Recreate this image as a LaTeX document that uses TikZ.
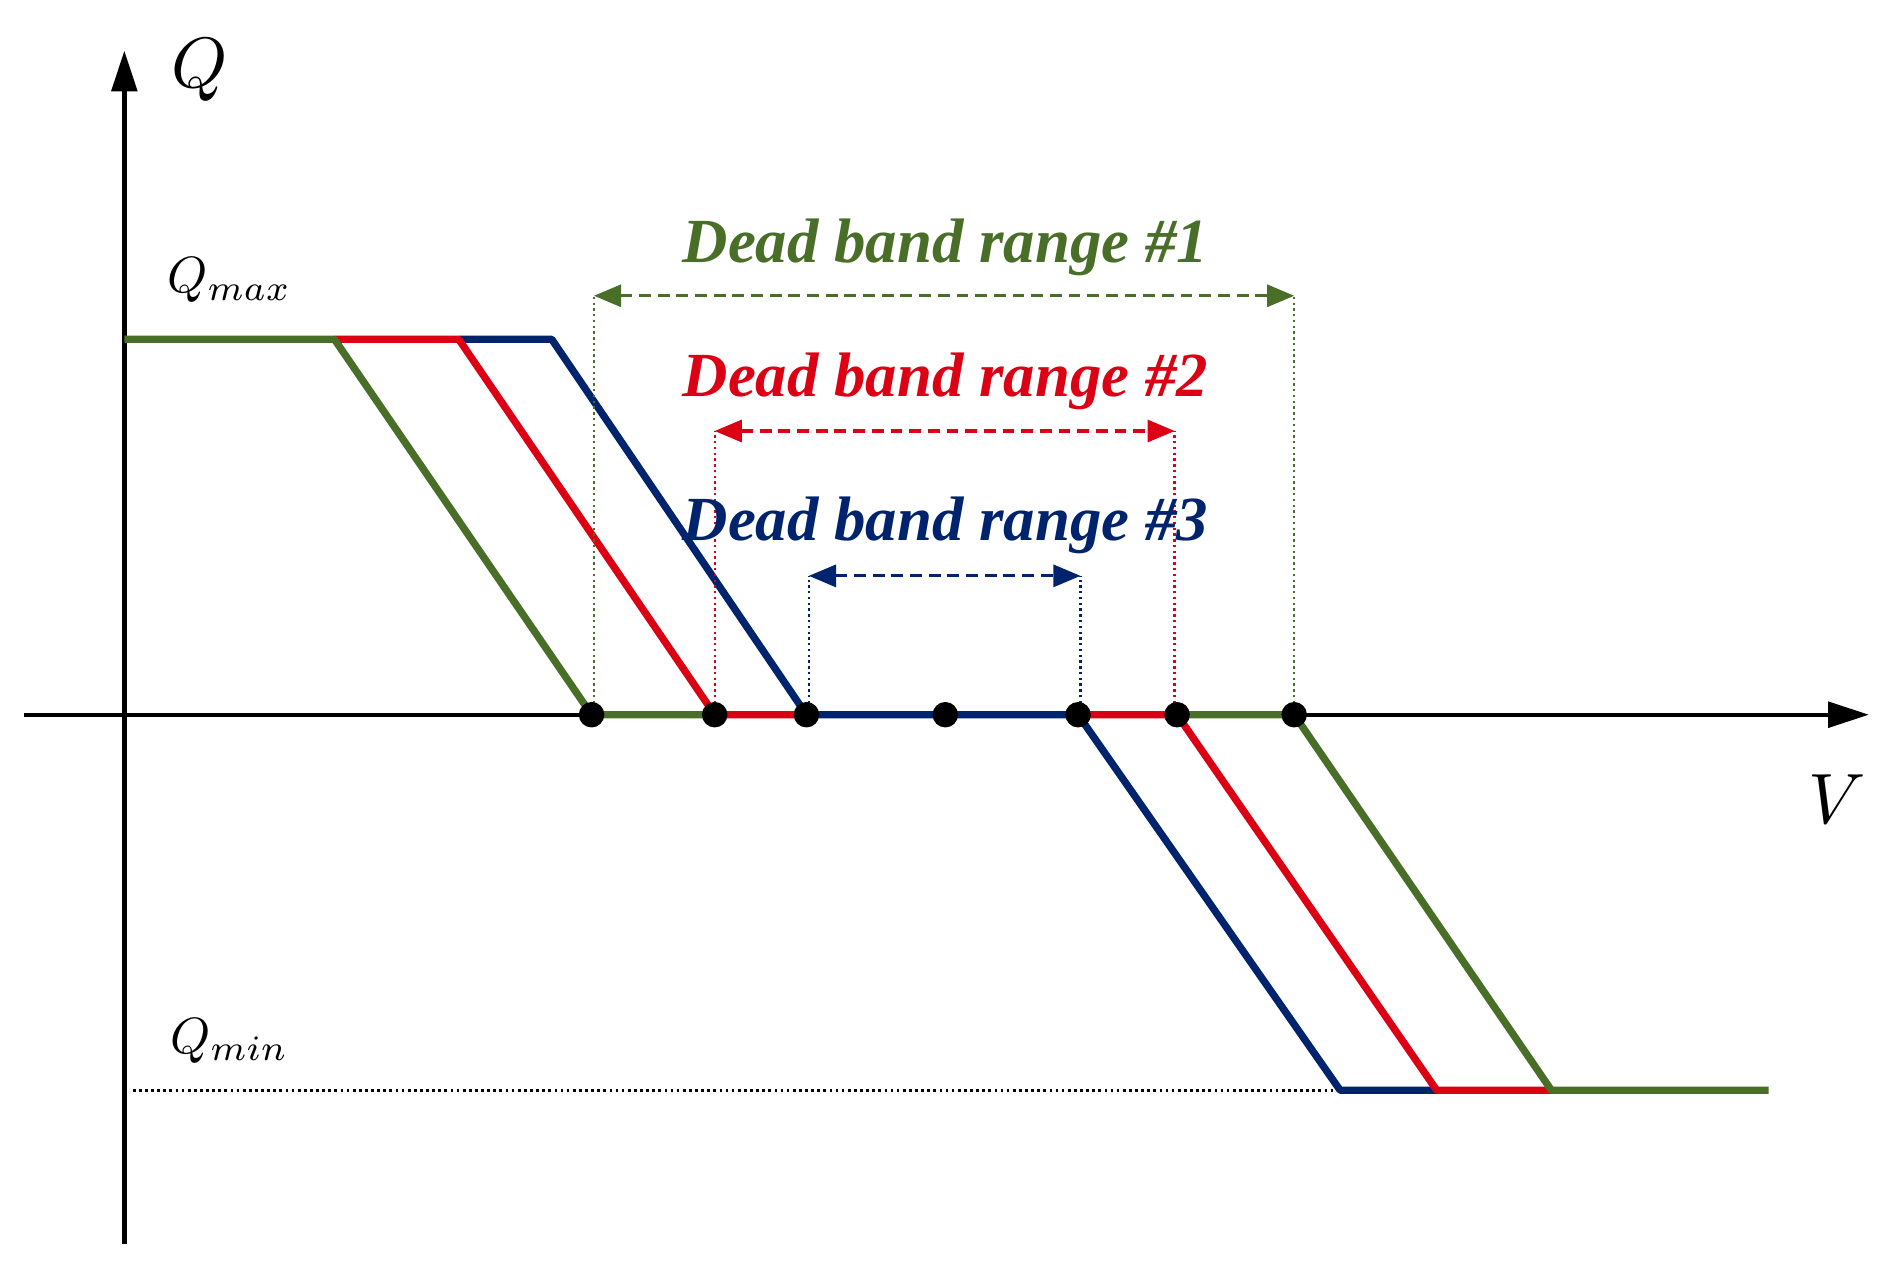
\documentclass[tikz,border=0pt]{standalone}
\usepackage{fontspec}
\setmainfont{Liberation Serif}
\usepackage{graphicx}
\usetikzlibrary{arrows.meta}
\definecolor{cg}{RGB}{72,110,40}
\definecolor{cr}{RGB}{220,0,20}
\definecolor{cb}{RGB}{0,35,110}
\begin{document}
\begin{tikzpicture}[x=0.025cm,y=-0.025cm,
 curve/.style={line width=4.3pt,line join=round},
 dot/.style={circle,fill=black,inner sep=0pt,minimum size=15pt},
 vdot/.style={dotted,line width=1.4pt},
 dbarrow/.style={dash pattern=on 7pt off 4pt,line width=1.8pt,{Triangle[length=16pt,width=13pt]}-{Triangle[length=16pt,width=13pt]}},
 dblabel/.style={font=\fontsize{37}{40}\selectfont\bfseries\itshape},
 ax/.style={line width=2.6pt,-{Triangle[length=24pt,width=15pt]}}]
\useasboundingbox (0,0) rectangle (1568,1059);
\coordinate (yb) at (103,1030); \coordinate (yt) at (103,42);
\coordinate (xl) at (20,592); \coordinate (xr) at (1548,592);
\draw[ax] (yb) -- (yt);
\draw[ax] (xl) -- (xr);
\node (Q) at (165,58) {\scalebox{4.2}{$Q$}};
\node (V) at (1522,662) {\scalebox{4.2}{$V$}};
\node (Qmax) at (190,232) {\scalebox{3}{$Q_{max}$}};
\node (Qmin) at (190,862) {\scalebox{3}{$Q_{min}$}};
\coordinate (qm1) at (110,903); \coordinate (qm2) at (1110,903);
\draw[dotted,line width=1.6pt] (qm1) -- (qm2);
% curves
\draw[curve,cb] (380,281) -- (457,281) -- (668,592) -- (893,592) -- (1110,903) -- (1190,903);
\draw[curve,cr] (277,281) -- (380,281) -- (592,592) -- (668,592);
\draw[curve,cr] (893,592) -- (975,592) -- (1190,903) -- (1285,903);
\draw[curve,cg] (103,281) -- (277,281) -- (490,592) -- (592,592);
\draw[curve,cg] (975,592) -- (1072,592) -- (1285,903) -- (1465,903);
% dead bands
\coordinate (g1) at (492,245); \coordinate (g2) at (1072,245);
\draw[vdot,cg] (492,592) -- (g1); \draw[vdot,cg] (1072,592) -- (g2);
\draw[dbarrow,cg] (g1) -- (g2);
\node[dblabel,cg] (l1) at (783,205) {Dead band range \#1};
\coordinate (r1) at (592,357); \coordinate (r2) at (973,357);
\draw[vdot,cr] (592,592) -- (r1); \draw[vdot,cr] (973,592) -- (r2);
\draw[dbarrow,cr] (r1) -- (r2);
\node[dblabel,cr] (l2) at (783,316) {Dead band range \#2};
\coordinate (b1) at (670,477); \coordinate (b2) at (895,477);
\draw[vdot,cb] (670,592) -- (b1); \draw[vdot,cb] (895,592) -- (b2);
\draw[dbarrow,cb] (b1) -- (b2);
\node[dblabel,cb] (l3) at (783,435) {Dead band range \#3};
\foreach \x/\n in {490/d1,592/d2,668/d3,783/d4,893/d5,975/d6,1072/d7}
  \node[dot] (\n) at (\x,592) {};
\end{tikzpicture}
\end{document}
